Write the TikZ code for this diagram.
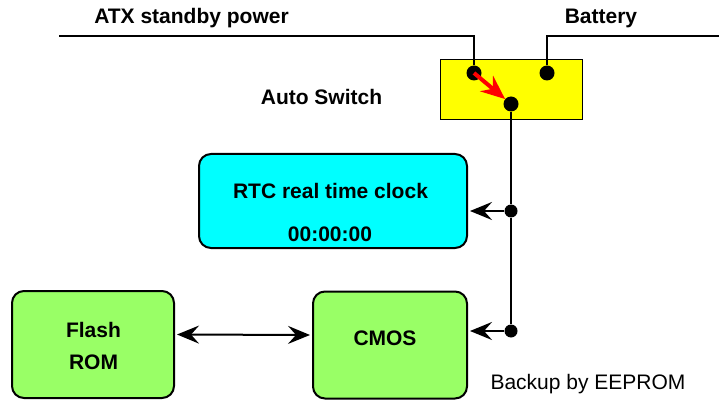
\documentclass[tikz,border=0pt]{standalone}
\usepackage{fontspec}
\setmainfont{Liberation Sans}
\usetikzlibrary{arrows.meta}

\definecolor{rtccyan}{RGB}{0,255,255}
\definecolor{memgreen}{RGB}{153,255,102}
\definecolor{swyellow}{RGB}{255,255,0}

\begin{document}
\begin{tikzpicture}[
    x=1pt, y=-1pt,
    box/.style={draw, line width=2pt, rounded corners=12pt, inner sep=0pt},
    rtcbox/.style={box, fill=rtccyan, minimum width=268pt, minimum height=94pt},
    membox/.style={box, fill=memgreen, minimum height=107pt},
    switchbox/.style={draw, line width=1.5pt, fill=swyellow, minimum width=142pt, minimum height=60pt, inner sep=0pt},
    dot/.style={circle, fill=black, inner sep=0pt, minimum size=15pt},
    junction/.style={circle, fill=black, inner sep=0pt, minimum size=13pt},
    title/.style={font=\fontsize{21}{25}\selectfont\bfseries, anchor=base},
    note/.style={font=\fontsize{21}{25}\selectfont, anchor=base},
    wire/.style={line width=2pt},
    arrow/.style={wire, -{Stealth[length=22pt, width=18pt, inset=8pt]}},
    dblarrow/.style={wire, {Stealth[length=22pt, width=18pt, inset=8pt]}-{Stealth[length=22pt, width=18pt, inset=8pt]}},
    switcharrow/.style={red, line width=4pt, -{Stealth[length=24pt, width=20pt, inset=8pt]}}
]
\useasboundingbox (0,0) rectangle (719,403);

% auto switch
\node[switchbox] (switch) at (511.5,89.5) {};
\node[dot] (swa) at (474,73) {};
\node[dot] (swb) at (547,73) {};
\node[dot] (swo) at (511,104) {};
\coordinate (atx) at (59,36);
\coordinate (bat) at (719,36);
\node[title] (atxlabel) at (191.5,24) {ATX standby power};
\node[title] (batlabel) at (601,24) {Battery};
\node[title] (swlabel) at (321.5,105) {Auto Switch};

% rtc and memories
\node[rtcbox] (rtc) at (333,201) {};
\node[title] (rtcname) at (330.5,199) {RTC real time clock};
\node[title] (rtctime) at (330,241) {00:00:00};
\node[membox, minimum width=162pt] (flash) at (93,344.5) {};
\node[title] (flashname) at (93.5,337) {Flash};
\node[title] (romname) at (93.5,369) {ROM};
\node[membox, minimum width=154pt] (cmos) at (390,345) {};
\node[title] (cmosname) at (385,345) {CMOS};
\node[note] (backup) at (588,389) {Backup by EEPROM};

\node[junction] (jrtc) at (511,211) {};
\node[junction] (jcmos) at (511,331) {};

\draw[wire] (atx) -| (swa);
\draw[wire] (bat) -| (swb);
\draw[wire] (swo) -- (jrtc) -- (jcmos);
\draw[arrow] (jrtc) -- ([xshift=2pt]jrtc -| rtc.east);
\draw[arrow] (jcmos) -- ([xshift=2pt]jcmos -| cmos.east);
\draw[dblarrow] ([yshift=10pt, xshift=2pt]flash.east) -- ([yshift=10pt, xshift=-2pt]cmos.west);
\draw[switcharrow] (swa.center) -- (swo);
\end{tikzpicture}
\end{document}
